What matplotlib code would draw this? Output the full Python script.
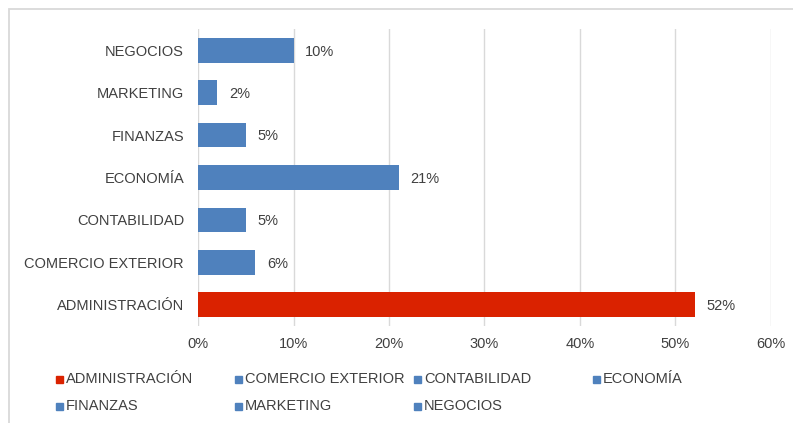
import matplotlib.pyplot as plt
from matplotlib.patches import Rectangle

# -------------------------------
# DATA
# -------------------------------
categorias = ["ADMINISTRACIÓN", "COMERCIO EXTERIOR", "CONTABILIDAD",
              "ECONOMÍA", "FINANZAS", "MARKETING", "NEGOCIOS"]
porcentajes = [52, 6, 5, 21, 5, 2, 10]
colores = ["#DA2200", "#4F81BD", "#4F81BD", "#4F81BD",
           "#4F81BD", "#4F81BD", "#4F81BD"]
x_ticks = [0, 10, 20, 30, 40, 50, 60]

TXT = "#404040"
GRID = "#D9D9D9"

plt.rcParams['font.family'] = ['Liberation Sans', 'DejaVu Sans']

fig = plt.figure(figsize=(7.93, 4.23), dpi=100)
W, H = 793, 423

# outer border
fig.patches.append(Rectangle((9 / W, -0.1), 1.2, 1 - 9 / H + 0.1,
                             transform=fig.transFigure, fill=False,
                             edgecolor=GRID, linewidth=1.3))

ax = fig.add_axes([198 / W, 1 - 326 / H, (771 - 198) / W, (326 - 29) / H])

y = list(range(len(categorias)))
ax.barh(y, porcentajes, height=0.58, color=colores, zorder=3)

for yi, v in zip(y, porcentajes):
    ax.annotate(f"{v}%", (v, yi), xytext=(8.5, -1), textcoords="offset points",
                va="center", ha="left", fontsize=10.5, color=TXT)

ax.set_xlim(0, 60)
ax.set_ylim(-0.5, len(categorias) - 0.5)
ax.set_xticks(x_ticks)
ax.set_xticklabels([f"{t}%" for t in x_ticks])
ax.set_yticks(y)
ax.set_yticklabels(categorias)
ax.tick_params(axis="both", length=0, labelsize=10.5, labelcolor=TXT)
ax.tick_params(axis="y", pad=10)
ax.tick_params(axis="x", pad=8)
ax.grid(axis="x", color=GRID, linewidth=1, zorder=0)
for s in ax.spines.values():
    s.set_visible(False)

# legend, Excel style: equal-width columns, row-major
x0, dx = 59, 179
rows_y = [379, 406]
for i, (cat, col) in enumerate(zip(categorias, colores)):
    r, c = divmod(i, 4)
    cx, cy = x0 + c * dx, rows_y[r]
    fig.patches.append(Rectangle(((cx - 3.5) / W, 1 - (cy + 3.5) / H), 7 / W, 7 / H,
                                 transform=fig.transFigure, color=col))
    fig.text((cx + 7) / W, 1 - cy / H, cat, va="center", ha="left",
             fontsize=10.5, color=TXT)

fig.savefig("out.png", dpi=100)
